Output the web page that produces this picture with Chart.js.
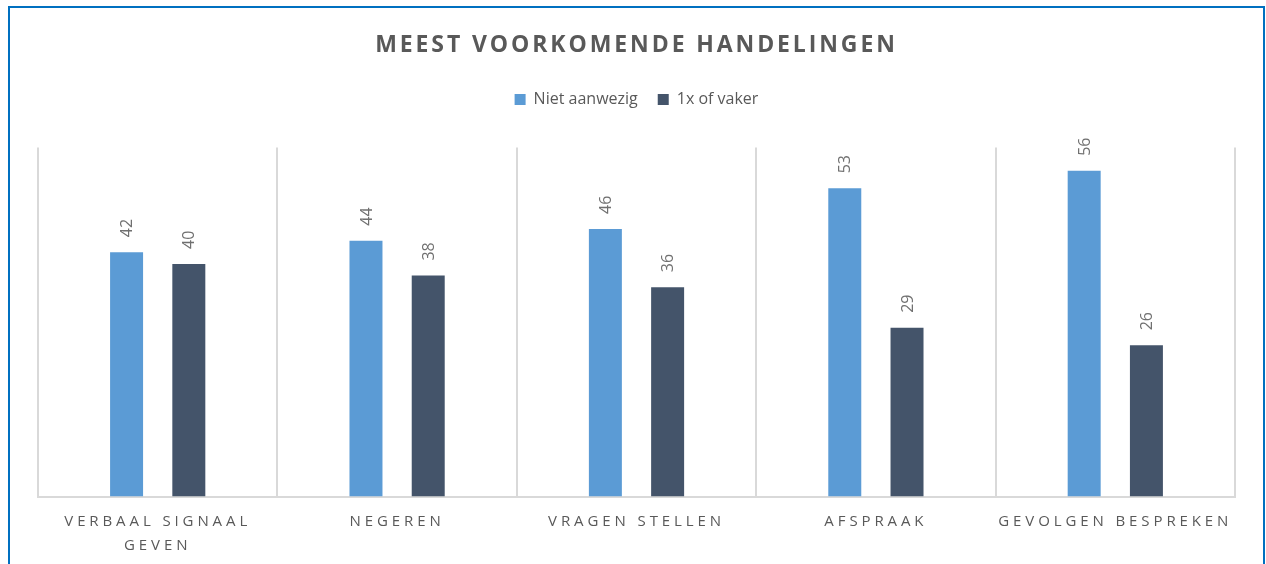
<!DOCTYPE html>
<html>
<head>
<meta charset="utf-8">
<script src="https://cdn.jsdelivr.net/npm/chart.js@4/dist/chart.umd.min.js"></script>
<style>
html, body { margin: 0; padding: 0; background: #fff; overflow: hidden; }
#wrap { position: absolute; left: 0; top: 0; width: 1266px; height: 600px; }
#frame { position: absolute; left: 8px; top: 6px; width: 1257px; height: 640px; border: 2px solid #0070C0; box-sizing: border-box; pointer-events: none; }
</style>
</head>
<body>
<div id="wrap"><canvas id="chart"></canvas></div>
<div id="frame"></div>
<script>
var titel = 'MEEST VOORKOMENDE HANDELINGEN';
var categorieen = [['VERBAAL SIGNAAL', 'GEVEN'], 'NEGEREN', 'VRAGEN STELLEN', 'AFSPRAAK', 'GEVOLGEN BESPREKEN'];
var reeksNamen = ['Niet aanwezig', '1x of vaker'];
var nietAanwezig = [42, 44, 46, 53, 56];
var eenKeerOfVaker = [40, 38, 36, 29, 26];
var kleuren = ['#5B9BD5', '#44546A'];

var grijs = '#595959';
var lijn = '#d9d9d9';

// letter spacing for title and axis labels (canvas has no option for it in Chart.js)
var spatiering = {
    id: 'spatiering',
    beforeDraw: function(chart) {
        if (chart._spatiering) return;
        chart._spatiering = true;
        var ctx = chart.ctx;
        var tb = chart.titleBlock;
        var origTitle = tb.draw;
        tb.draw = function(area) {
            ctx.save();
            ctx.letterSpacing = '2.9px';
            origTitle.call(this, area);
            ctx.restore();
        };
        var x = chart.scales.x;
        var origLabels = x.drawLabels;
        x.drawLabels = function(area) {
            ctx.save();
            ctx.letterSpacing = '3.9px';
            origLabels.call(this, area);
            ctx.restore();
        };
    }
};

// empty box between legend and plot
var ruimte = {
    id: 'ruimte',
    beforeInit: function(chart) {
        Chart.layouts.addBox(chart, {
            position: 'top',
            weight: 0,
            fullSize: true,
            options: {},
            left: 0, top: 0, right: 0, bottom: 0,
            width: 0,
            height: 30,
            isHorizontal: function() { return true; },
            update: function(maxWidth) { this.width = maxWidth; this.height = 30; },
            draw: function() {}
        });
    }
};

// rotated value labels above the bars
var waardeLabels = {
    id: 'waardeLabels',
    afterDatasetsDraw: function(chart) {
        var ctx = chart.ctx;
        ctx.save();
        ctx.font = '16px "Open Sans"';
        ctx.fillStyle = '#707070';
        ctx.textAlign = 'left';
        ctx.textBaseline = 'middle';
        chart.data.datasets.forEach(function(ds, i) {
            chart.getDatasetMeta(i).data.forEach(function(bar, j) {
                ctx.save();
                ctx.translate(bar.x + 1, bar.y - 15);
                ctx.rotate(-Math.PI / 2);
                ctx.fillText(ds.data[j], 0, 0);
                ctx.restore();
            });
        });
        ctx.restore();
    }
};

var ctx = document.getElementById('chart');
var grafiek = new Chart(ctx, {
    type: 'bar',
    data: {
        labels: categorieen,
        datasets: [{
            label: reeksNamen[0],
            data: nietAanwezig,
            backgroundColor: kleuren[0]
        }, {
            label: reeksNamen[1],
            data: eenKeerOfVaker,
            backgroundColor: kleuren[1]
        }]
    },
    options: {
        responsive: true,
        maintainAspectRatio: false,
        animation: false,
        categoryPercentage: 0.52,
        barPercentage: 0.53,
        layout: {
            padding: { left: 38, right: 31, top: 0, bottom: 29 }
        },
        plugins: {
            tooltip: { enabled: false },
            title: {
                display: true,
                text: titel,
                color: grijs,
                font: { family: 'Open Sans', size: 23, weight: 'bold' },
                padding: { top: 32, bottom: 12 }
            },
            legend: {
                display: true,
                labels: {
                    color: grijs,
                    font: { family: 'Open Sans', size: 16 },
                    boxWidth: 11,
                    boxHeight: 11,
                    padding: 20
                }
            }
        },
        scales: {
            x: {
                grid: { display: true, offset: true, color: lijn, lineWidth: 2, drawTicks: false },
                border: { display: true, color: lijn, width: 2 },
                ticks: {
                    color: grijs,
                    font: { family: 'Open Sans', size: 15, lineHeight: 1.55 },
                    padding: 14,
                    maxRotation: 0,
                    autoSkip: false
                }
            },
            y: {
                display: false,
                min: 0,
                max: 60
            }
        }
    },
    plugins: [spatiering, ruimte, waardeLabels]
});
</script>
</body>
</html>
